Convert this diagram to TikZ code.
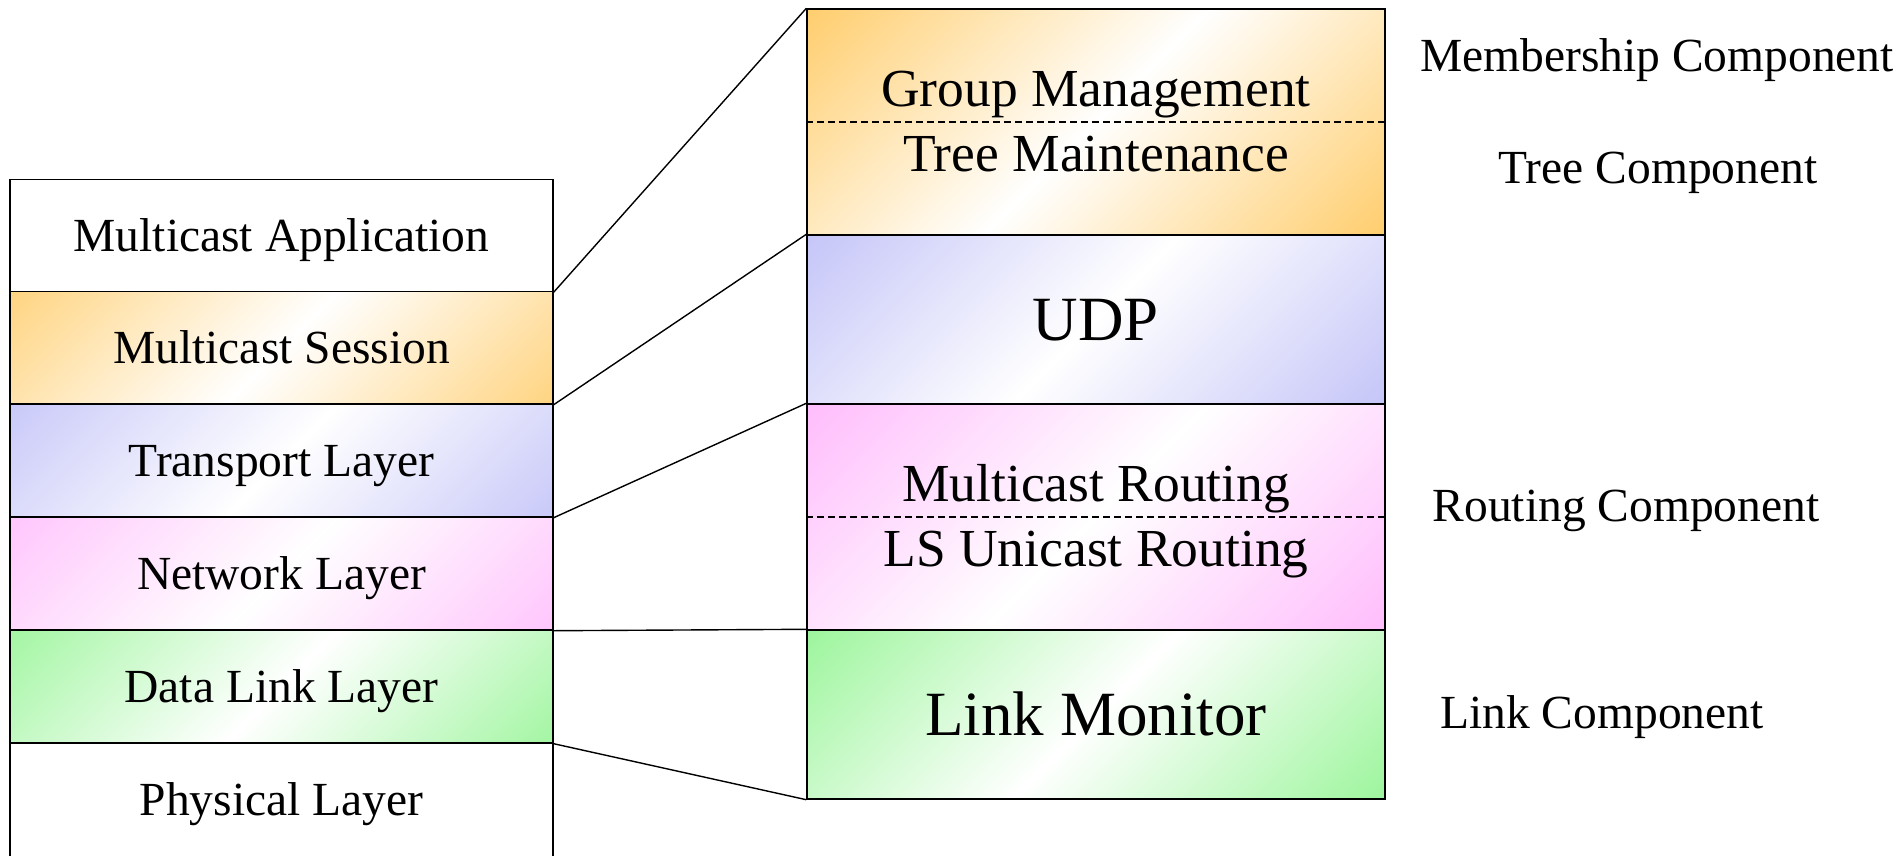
\documentclass[tikz,border=0pt]{standalone}
\usepackage{fontspec}
\setmainfont{Liberation Serif}
\usetikzlibrary{calc}

% fill colours of the layer boxes (strongest tone, at the corners)
\definecolor{layorange}{RGB}{255,205,108}
\definecolor{layblue}{RGB}{192,192,248}
\definecolor{laypink}{RGB}{255,188,252}
\definecolor{laygreen}{RGB}{148,244,148}

\tikzset{
  box/.style={rectangle, draw=black, line width=1.4pt, inner sep=0pt},
  leftbox/.style={box, minimum width=543pt, minimum height=#1,
    font=\fontsize{47.5}{57}\selectfont, text height=31.4pt, text depth=0pt},
  rightbox/.style={box, minimum width=578pt, minimum height=#1},
  % diagonal gradient: colour in the top-left and bottom-right corners, white band in between
  grad/.style 2 args={path picture={
    \shade[top color=#1, bottom color=#1, middle color=white, shading angle=45]
      ($(path picture bounding box.center)+(-#2,-#2)$) rectangle
      ($(path picture bounding box.center)+(#2,#2)$);}},
  lgrad/.style={grad={#1}{272}},
  rgrad/.style={grad={#1}{289}},
  small/.style={font=\fontsize{47.5}{57}\selectfont, inner sep=0pt, anchor=base},
  mid/.style={font=\fontsize{53.5}{64}\selectfont, inner sep=0pt, anchor=base},
  big/.style={font=\fontsize{63}{75}\selectfont, text height=41.7pt, text depth=0pt},
  divider/.style={line width=1.4pt, dash pattern=on 7pt off 4pt},
  link/.style={line width=1.4pt}
}

\begin{document}
\begin{tikzpicture}[x=1pt, y=-1pt]
\useasboundingbox (0,0) rectangle (1903,855);

% protocol stack on the left
\node[leftbox=112pt, fill=white] (app) at (281.5,235.5) {Multicast Application};
\node[leftbox=112.5pt, lgrad=layorange] (sess) at (281.5,347.75) {Multicast Session};
\node[leftbox=113pt, lgrad=layblue] (trans) at (281.5,460.5) {Transport Layer};
\node[leftbox=113pt, lgrad=laypink] (net) at (281.5,573.5) {Network Layer};
\node[leftbox=113pt, lgrad=laygreen] (dll) at (281.5,686.5) {Data Link Layer};
\node[leftbox=114pt, fill=white] (phy) at (281.5,800) {Physical Layer};

% expanded components on the right
\node[rightbox=226pt, rgrad=layorange] (tree) at (1096,122) {};
\node[rightbox=169pt, rgrad=layblue, big] (udp) at (1096,319.5) {UDP};
\node[rightbox=226pt, rgrad=laypink] (route) at (1096,517) {};
\node[rightbox=169pt, rgrad=laygreen, big] (mon) at (1096,714.5) {Link Monitor};

\draw[divider] (tree.west) -- (tree.east);
\draw[divider] (route.west) -- (route.east);

\node[mid] (gm) at (1096,106.7) {Group Management};
\node[mid] (tm) at (1096,171.7) {Tree Maintenance};
\node[mid] (mr) at (1096,501.7) {Multicast Routing};
\node[mid] (ls) at (1096,566.7) {LS Unicast Routing};

% lines linking each layer to its expansion
\draw[link] (app.south east) -- (tree.north west);
\draw[link] (sess.south east) -- (udp.north west);
\draw[link] (trans.south east) -- (route.north west);
\draw[link] (net.south east) -- (mon.north west);
\draw[link] (dll.south east) -- (mon.south west);

% component names
\node[small] (cmem) at (1657,71.7) {Membership Component};
\node[small] (ctree) at (1658,183.5) {Tree Component};
\node[small] (croute) at (1626,521) {Routing Component};
\node[small] (clink) at (1602,728) {Link Component};
\end{tikzpicture}
\end{document}
